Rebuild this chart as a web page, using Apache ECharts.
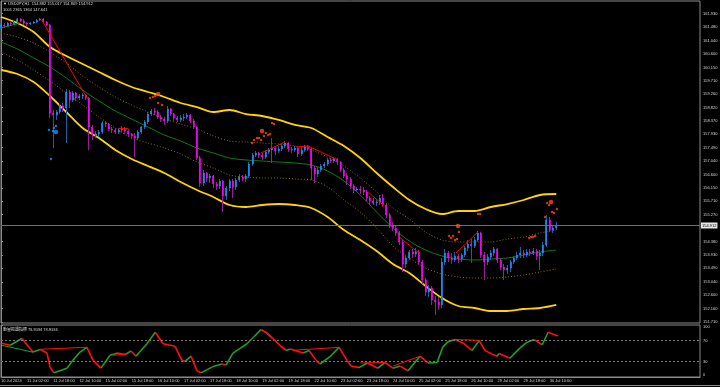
<!DOCTYPE html>
<html><head><meta charset="utf-8">
<style>html,body{margin:0;padding:0;background:#000;}#c{width:720px;height:387px;}</style>
<script src="https://cdn.jsdelivr.net/npm/echarts/dist/echarts.min.js"></script>
</head><body><div id="c"></div>
<script>
// ---- time axis labels (every 16 H1 bars = every 8 H2 slots) ----
const timeLabels = ["10 Jul 2024","11 Jul 02:00","11 Jul 18:00","12 Jul 10:00","15 Jul 02:00","15 Jul 18:00","16 Jul 10:00","17 Jul 02:00","17 Jul 18:00","18 Jul 10:00","19 Jul 02:00","19 Jul 18:00","22 Jul 10:00","23 Jul 02:00","23 Jul 18:00","24 Jul 10:00","25 Jul 02:00","25 Jul 18:00","26 Jul 10:00","29 Jul 02:00","29 Jul 18:00","30 Jul 10:00"];
const slotCount = 215;
const labelEvery = 8;
// ---- price scale tick labels ----
const priceTicks = [151.710,152.160,152.600,153.040,153.490,153.930,154.380,155.270,155.710,156.150,156.600,157.040,157.490,157.930,158.370,158.820,159.260,159.710,160.150,160.600,161.040,161.480,161.930];
const priceMin = 151.678, priceMax = 162.351;
const oscTicks = [0,30,70,100];
const oscLevels = [70,30];
const lastPrice = 154.912;
// ---- USDJPY candles (2-hour slots): [open, close, low, high] ----
const candles = [
[161.489,161.555,161.423,161.588],[161.555,161.522,161.456,161.622],[161.522,161.622,161.489,161.655],[161.622,161.588,161.522,161.655],
[161.588,161.655,161.555,161.688],[161.655,161.754,161.622,161.787],[161.754,161.688,161.655,161.787],[161.688,161.622,161.555,161.754],
[161.622,161.588,161.522,161.655],[161.588,161.622,161.555,161.655],[161.622,161.655,161.588,161.688],[161.655,161.721,161.622,161.754],
[161.721,161.754,161.688,161.787],[161.754,161.655,161.622,161.787],[161.655,161.555,161.522,161.688],[161.555,158.639,158.473,161.588],
[158.639,158.572,157.478,158.738],[158.572,158.672,158.406,158.738],[158.672,158.871,158.605,158.937],[158.871,158.804,158.672,158.970],
[158.804,159.335,157.644,159.434],[159.335,159.069,158.804,159.401],[159.069,159.301,159.003,159.368],[159.301,159.136,159.036,159.335],
[159.136,159.202,159.069,159.268],[159.202,159.235,159.103,159.301],[159.235,159.136,159.069,159.268],[159.136,158.174,157.412,159.169],
[158.174,157.909,157.744,158.241],[157.909,157.942,157.810,158.042],[157.942,158.009,157.843,158.075],[158.009,158.307,157.942,158.373],
[158.307,158.274,158.174,158.373],[158.274,158.108,158.042,158.307],[158.108,158.075,157.976,158.174],[158.075,158.009,157.942,158.141],
[158.009,158.075,157.942,158.141],[158.075,158.141,157.976,158.208],[158.141,158.042,157.942,158.174],[158.042,157.942,157.843,158.108],
[157.942,157.876,157.777,157.976],[157.876,157.810,157.180,157.976],[157.810,158.009,157.744,158.075],[158.009,158.174,157.942,158.208],
[158.174,158.340,158.108,158.406],[158.340,158.605,158.274,158.672],[158.605,158.705,158.539,158.771],[158.705,158.672,158.572,158.804],
[158.672,158.506,158.440,158.738],[158.506,158.440,158.340,158.572],[158.440,158.373,158.241,158.506],[158.373,158.771,158.307,158.871],
[158.771,158.605,158.539,158.804],[158.605,158.473,158.373,158.639],[158.473,158.406,158.340,158.539],[158.406,158.473,158.340,158.572],
[158.473,158.506,158.373,158.605],[158.506,158.572,158.440,158.639],[158.572,158.373,158.307,158.605],[158.373,158.174,158.108,158.440],
[158.174,157.147,157.081,158.208],[157.147,156.318,156.186,157.213],[156.318,156.650,156.219,156.749],[156.650,156.484,156.351,156.683],
[156.484,156.550,156.318,156.617],[156.550,156.285,156.153,156.583],[156.285,156.219,156.086,156.351],[156.219,156.385,156.119,156.451],
[156.385,155.887,155.357,156.418],[155.887,156.153,155.755,156.219],[156.153,156.385,156.053,156.451],[156.385,156.186,155.821,156.451],
[156.186,156.418,156.086,156.484],[156.418,156.517,156.351,156.617],[156.517,156.451,156.385,156.583],[156.451,156.550,156.351,156.617],
[156.550,156.948,156.484,157.014],[156.948,157.246,156.882,157.313],[157.246,157.313,157.180,157.379],[157.313,157.246,157.147,157.346],
[157.246,157.180,157.081,157.313],[157.180,157.346,157.114,157.412],[157.346,157.412,157.280,157.478],[157.412,157.478,156.981,157.810],
[157.478,157.379,157.246,157.545],[157.379,157.445,157.313,157.545],[157.445,157.545,157.379,157.611],[157.545,157.644,157.478,157.710],
[157.644,157.445,157.346,157.677],[157.445,157.412,157.313,157.512],[157.412,157.478,157.346,157.545],[157.478,157.280,157.180,157.512],
[157.280,157.412,157.213,157.478],[157.412,157.545,157.346,157.578],[157.545,157.445,157.379,157.578],[157.445,156.815,156.418,157.512],
[156.815,156.617,156.318,156.882],[156.617,156.749,156.517,156.849],[156.749,156.882,156.683,156.948],[156.882,156.948,156.815,157.014],
[156.948,157.081,156.882,157.147],[157.081,157.047,156.981,157.147],[157.047,157.114,156.981,157.180],[157.114,157.014,156.915,157.147],
[157.014,156.749,156.683,157.047],[156.749,156.550,156.484,156.815],[156.550,156.451,156.252,156.650],[156.451,156.219,156.119,156.517],
[156.219,156.086,155.987,156.285],[156.086,156.119,156.020,156.186],[156.119,156.086,155.954,156.219],[156.086,156.020,155.921,156.186],
[156.020,155.821,155.722,156.086],[155.821,155.722,155.622,155.887],[155.722,155.655,155.589,155.821],[155.655,155.689,155.556,155.788],
[155.689,155.821,155.589,155.921],[155.821,155.589,155.523,155.954],[155.589,155.258,155.158,155.655],[155.258,154.926,154.827,155.324],
[154.926,154.827,154.727,155.026],[154.827,154.661,154.562,154.893],[154.661,154.363,154.263,154.727],[154.363,153.633,153.368,154.429],
[153.633,153.832,153.501,153.899],[153.832,154.031,153.766,154.097],[154.031,153.965,153.832,154.131],[153.965,154.031,153.865,154.164],
[154.031,153.700,153.600,154.097],[153.700,153.103,152.971,153.766],[153.103,152.705,152.573,153.169],[152.705,152.838,152.540,152.937],
[152.838,152.440,152.274,152.904],[152.440,152.374,151.943,152.573],[152.374,152.274,152.109,152.540],[152.274,153.700,152.175,153.832],
[153.700,153.998,153.600,154.131],[153.998,153.832,153.700,154.064],[153.832,153.766,153.633,153.998],[153.766,153.899,153.700,154.031],
[153.899,153.799,153.667,153.965],[153.799,153.932,153.700,153.998],[153.932,154.164,153.865,154.230],[154.164,154.296,154.064,154.429],
[154.296,154.230,153.667,154.462],[154.230,154.429,154.164,154.528],[154.429,154.661,154.363,154.727],[154.661,153.932,153.832,154.694],
[153.932,153.700,153.103,154.031],[153.700,153.865,153.600,153.965],[153.865,153.998,153.766,154.097],[153.998,154.131,153.899,154.197],
[154.131,153.766,153.667,154.164],[153.766,153.534,153.435,153.832],[153.534,153.435,153.103,153.633],[153.435,153.501,153.302,153.600],
[153.501,153.700,153.368,153.766],[153.700,153.832,153.633,153.899],[153.832,153.932,153.766,154.031],[153.932,153.998,153.832,154.197],
[153.998,153.932,153.832,154.097],[153.932,154.031,153.865,154.131],[154.031,153.998,153.899,154.131],[153.998,154.064,153.932,154.164],
[154.064,153.899,153.766,154.131],[153.899,153.998,153.435,154.097],[153.998,154.263,153.899,154.363],[154.263,155.092,154.197,155.258],
[155.092,154.760,154.694,155.191],[154.760,154.827,154.661,154.926],[154.827,154.912,154.760,155.026]
];
// ---- envelope / band indicator, sampled every 5 slots ----
const bandIdx = [0,5,10,15,20,25,30,35,40,45,50,55,60,65,70,75,80,85,90,95,100,105,110,115,120,125,130,135,140,145,150,155,160,165,170];
const upperOuter = [161.821,161.622,161.323,160.826,160.528,160.263,159.998,159.732,159.500,159.335,159.169,158.970,158.837,158.672,158.738,158.605,158.539,158.407,158.241,158.141,157.843,157.545,157.147,156.650,156.186,155.755,155.457,155.291,155.390,155.390,155.523,155.622,155.755,155.921,155.954];
const lowerOuter = [160.064,159.931,159.666,159.202,158.672,158.141,157.810,157.412,157.114,156.882,156.650,156.351,156.086,155.854,155.589,155.523,155.589,155.622,155.589,155.490,155.191,154.760,154.429,154.064,153.634,153.335,152.904,152.507,152.241,152.175,152.076,152.076,152.142,152.175,152.275];
const middle = [160.992,160.760,160.462,160.163,159.799,159.401,159.036,158.705,158.440,158.175,157.909,157.710,157.478,157.313,157.147,157.081,157.047,157.014,156.981,156.915,156.716,156.385,155.921,155.357,154.827,154.396,154.097,153.899,153.799,153.766,153.799,153.832,153.932,154.031,154.097];
const upperInner = [161.290,161.158,160.959,160.660,160.296,159.865,159.500,159.169,158.904,158.672,158.440,158.274,158.108,157.876,157.710,157.677,157.644,157.611,157.545,157.412,157.180,156.882,156.484,156.020,155.490,155.125,154.694,154.429,154.363,154.363,154.363,154.462,154.528,154.661,154.760];
const lowerInner = [160.660,160.395,160.064,159.699,159.301,158.904,158.506,158.141,157.810,157.644,157.478,157.280,157.014,156.816,156.583,156.517,156.484,156.484,156.451,156.418,156.186,155.755,155.357,154.827,154.230,153.832,153.501,153.302,153.203,153.169,153.169,153.203,153.269,153.368,153.468];
// ---- trend lines on price ([slot, price] pairs) ----
const trendRed = [
 [[12.5,161.721],[26.5,159.103]],[[36,158.141],[39,158.141]],[[79.6,157.313],[87,157.677]],
 [[90.3,157.512],[94,157.545]],[[94,157.545],[103.2,157.081]],[[112.4,156.020],[117,155.589]],
 [[121.6,154.562],[128.3,153.965]],[[139.3,153.998],[146,154.694]]
];
const trendGreen = [[[0,161.456],[5.8,161.622]]];
// ---- signal dots ----
const orangeSmall = [[45.6,159.136],[46.5,159.169],[47.2,159.202],[48.1,158.970],[49.3,158.904],
 [76.9,157.644],[77.5,157.744],[78.4,157.810],[79.0,157.810],[79.6,157.744],[80.5,157.876],[81.1,157.976],[81.8,157.909],[82.4,157.942],[83.0,158.307],[83.6,158.274],
 [137.2,154.562],[137.8,154.495],[138.4,154.562],[139.0,154.429],[139.6,154.462],[140.2,154.694],
 [146.1,155.291],[146.7,155.291],[161.7,154.495],[162.3,154.528],[162.9,154.528],[163.5,154.562],
 [166.6,155.191],[167.2,155.655],[167.8,155.589],[168.7,155.357],[169.3,155.324],[170.2,155.456]];
const orangeBig = [[48.1,159.268],[79.9,158.042],[139.9,154.893],[168.4,155.689]];
const blueSmall = [[14.7,158.075],[15.9,158.042],[16.2,158.141],[16.8,158.208],[15.3,157.114]];
const blueBig = [[16.8,158.009]];
// ---- oscillator (sub window) [slot, value] ----
const osc = [[0.3,65],[2.8,61],[6.4,74],[9.8,48],[12,53],[14.1,46],[15,19],[16.2,8],[20.2,17],[22,32],[24.2,48],[26.3,57],
 [28.2,32],[30.6,17],[33.4,42],[35.8,46],[38,43],[39.8,50],[41.3,40],[44.7,64],[47.2,86],[49.6,64],[51.1,62],[53.3,59],
 [55.4,32],[56.3,30],[58.2,40],[60,12],[61.2,8],[64.9,20],[67.7,25],[68.9,23],[71,46],[73.2,55],[75.3,64],[77.2,76],
 [79.6,91],[81.4,85],[83.3,74],[85.4,61],[87.3,51],[88.5,54],[92.5,46],[94.3,51],[96.5,32],[97.7,25],[100.7,39],[103.5,57],
 [105.9,32],[107.2,21],[109.6,18],[112.1,27],[115.4,17],[117.6,28],[120,17],[122.2,21],[124.6,12],[128.3,40],[130.7,27],
 [133.5,28],[135.3,58],[136.9,68],[139,72],[141.5,65],[144.2,51],[146.4,70],[148.2,51],[150.3,44],[151.9,40],[152.5,45],
 [155.8,36],[158.9,56],[161.1,67],[163.2,72],[165.7,62],[167.5,86],[170.5,79]];
const oscTrendGreen = [[[0.3,61],[9.8,47.6]]];
const oscTrendRed = [[[11.9,53.3],[26.3,57.1]],[[34.3,42],[38.6,44]],[[79.9,91.4],[87,51.4]],[[89.4,51.4],[103.8,57.1]],
 [[110,27],[117.6,28]],[[120,21],[128.3,40]],[[139,72],[146.7,70.5]]];

// ---------------- build ----------------
const cats = Array.from({length: slotCount}, (_, i) =>
  (i % labelEvery === 0 && i / labelEvery < timeLabels.length) ? timeLabels[i / labelEvery] : '');
const bodies = candles.map(c => [c[0], c[1], Math.min(c[0], c[1]), Math.max(c[0], c[1])]);
const pts = arr => bandIdx.map((k, i) => [k, arr[i]]);
const segs = (list, color, w) => list.map(s => ({coords: s, lineStyle: {color: color, width: w, opacity: 1}}));
const oscSegs = [];
for (let i = 0; i < osc.length - 1; i++) {
  const up = osc[i + 1][1] >= osc[i][1];
  oscSegs.push({coords: [osc[i], osc[i + 1]], lineStyle: {color: up ? '#22a022' : '#ff1010', width: 1.6, opacity: 1}});
}
const FONT = 'Liberation Sans';
const GRAY = '#8a8a8a';
const bandLine = (data, color, width, type) => ({
  type: 'line', xAxisIndex: 1, yAxisIndex: 0, data: data, showSymbol: false, smooth: 0.3,
  lineStyle: {color: color, width: width, type: type || 'solid'}, silent: true, z: 2
});
const linesSeries = (xi, yi, data, z) => ({type: 'lines', coordinateSystem: 'cartesian2d', xAxisIndex: xi, yAxisIndex: yi,
  data: data, silent: true, z: z, lineStyle: {opacity: 1}});

const option = {
  backgroundColor: '#000',
  animation: false,
  grid: [
    {left: 1, right: 20, top: 1, height: 322, show: true, borderColor: GRAY, borderWidth: 1, backgroundColor: '#000', outerBoundsMode: 'none', containLabel: false},
    {left: 1, right: 20, top: 325, height: 52, show: true, borderColor: GRAY, borderWidth: 1, backgroundColor: '#000', outerBoundsMode: 'none', containLabel: false}
  ],
  xAxis: [
    {gridIndex: 0, type: 'category', data: cats, boundaryGap: false, axisLine: {show: false}, axisTick: {show: false}, axisLabel: {show: false}, splitLine: {show: false}},
    {gridIndex: 0, type: 'value', min: 0, max: slotCount - 1, show: false},
    {gridIndex: 1, type: 'category', data: cats, boundaryGap: false,
     axisLine: {show: true, lineStyle: {color: GRAY}}, axisTick: {show: false},
     axisLabel: {interval: labelEvery - 1, color: '#d0d0d0', fontSize: 4, fontFamily: FONT, align: 'left', margin: 2, showMinLabel: true, hideOverlap: false},
     splitLine: {show: false}},
    {gridIndex: 1, type: 'value', min: 0, max: slotCount - 1, show: false}
  ],
  yAxis: [
    {gridIndex: 0, type: 'value', position: 'right', min: priceMin, max: priceMax, scale: true,
     axisLine: {show: true, lineStyle: {color: GRAY}},
     axisTick: {show: true, length: 2, customValues: priceTicks, lineStyle: {color: GRAY}},
     axisLabel: {customValues: priceTicks, formatter: v => Number(v).toFixed(3), color: '#d0d0d0', fontSize: 4, fontFamily: FONT, margin: 3},
     splitLine: {show: false}},
    {gridIndex: 1, type: 'value', position: 'right', min: 0, max: 100,
     axisLine: {show: true, lineStyle: {color: GRAY}},
     axisTick: {show: true, length: 2, customValues: oscTicks, lineStyle: {color: GRAY}},
     axisLabel: {customValues: oscTicks, formatter: v => String(v), color: '#d0d0d0', fontSize: 4, fontFamily: FONT, margin: 3,
                 verticalAlignMaxLabel: 'top', verticalAlignMinLabel: 'bottom'},
     splitLine: {show: false}}
  ],
  series: [
    bandLine(pts(upperOuter), '#ffd400', 1.8),
    bandLine(pts(lowerOuter), '#ffd400', 1.8),
    bandLine(pts(upperInner), '#8c6d12', 1, [1, 2]),
    bandLine(pts(lowerInner), '#8c6d12', 1, [1, 2]),
    bandLine(pts(middle), '#127a14', 1),
    {type: 'candlestick', xAxisIndex: 0, yAxisIndex: 0, data: candles, barWidth: 1, silent: true, z: 3,
     itemStyle: {color: '#1d5fa0', color0: '#962096', borderColor: '#1d5fa0', borderColor0: '#962096', borderWidth: 1}},
    {type: 'candlestick', xAxisIndex: 0, yAxisIndex: 0, data: bodies, barWidth: 1.5, silent: true, z: 4,
     itemStyle: {color: '#1e90ff', color0: '#ff00ff', borderColor: '#1e90ff', borderColor0: '#ff00ff', borderWidth: 0.6},
     markLine: {silent: true, symbol: 'none', animation: false,
       data: [{yAxis: lastPrice}],
       lineStyle: {color: '#6e6e6e', width: 1, type: 'solid'},
       label: {show: true, position: 'end', distance: 1, formatter: lastPrice.toFixed(3), color: '#000', backgroundColor: '#e6e6e6', fontSize: 4, fontFamily: FONT, padding: [1, 1]}}},
    linesSeries(1, 0, segs(trendRed, '#ff0000', 1), 5),
    linesSeries(1, 0, segs(trendGreen, '#14a014', 1), 5),
    {type: 'scatter', xAxisIndex: 1, yAxisIndex: 0, data: orangeSmall, symbolSize: 2.5, itemStyle: {color: '#ff4a0a'}, silent: true, z: 6},
    {type: 'scatter', xAxisIndex: 1, yAxisIndex: 0, data: orangeBig, symbolSize: 4.5, itemStyle: {color: '#ff4a0a'}, silent: true, z: 6},
    {type: 'scatter', xAxisIndex: 1, yAxisIndex: 0, data: blueSmall, symbolSize: 2.5, itemStyle: {color: '#1e90ff'}, silent: true, z: 6},
    {type: 'scatter', xAxisIndex: 1, yAxisIndex: 0, data: blueBig, symbolSize: 4.5, itemStyle: {color: '#1e90ff'}, silent: true, z: 6},
    {type: 'line', xAxisIndex: 3, yAxisIndex: 1, data: osc, showSymbol: false, lineStyle: {opacity: 0}, silent: true,
     markLine: {silent: true, symbol: 'none', animation: false, label: {show: false},
       data: oscLevels.map(v => ({yAxis: v})), lineStyle: {color: '#7a7a7a', width: 1, type: [2, 2]}}},
    linesSeries(3, 1, oscSegs, 4),
    linesSeries(3, 1, segs(oscTrendRed, '#ff1010', 1), 5),
    linesSeries(3, 1, segs(oscTrendGreen, '#22a022', 1), 5)
  ],
  graphic: [
    {type: 'text', x: 3, y: 2, z: 100, style: {text: '▼ USDJPY,H1  154.882 155.017 154.809 154.912', fill: '#d8d8d8', fontSize: 4, fontFamily: FONT, verticalAlign: 'top'}},
    {type: 'text', x: 3, y: 8, z: 100, style: {text: '1001 2365 1364 147.641', fill: '#d8d8d8', fontSize: 4, fontFamily: FONT, verticalAlign: 'top'}},
    {type: 'text', x: 3, y: 327, z: 100, style: {text: '動量振盪指標 78.9384 78.9384', fill: '#d8d8d8', fontSize: 4, fontFamily: '"Noto Sans CJK TC", ' + FONT, verticalAlign: 'top'}},
    {type: 'line', z: 100, shape: {x1: 0, y1: 385.5, x2: 720, y2: 385.5}, style: {stroke: GRAY, lineWidth: 1}}
  ]
};
const chart = echarts.init(document.getElementById('c'));
chart.setOption(option);
</script>
</body></html>
